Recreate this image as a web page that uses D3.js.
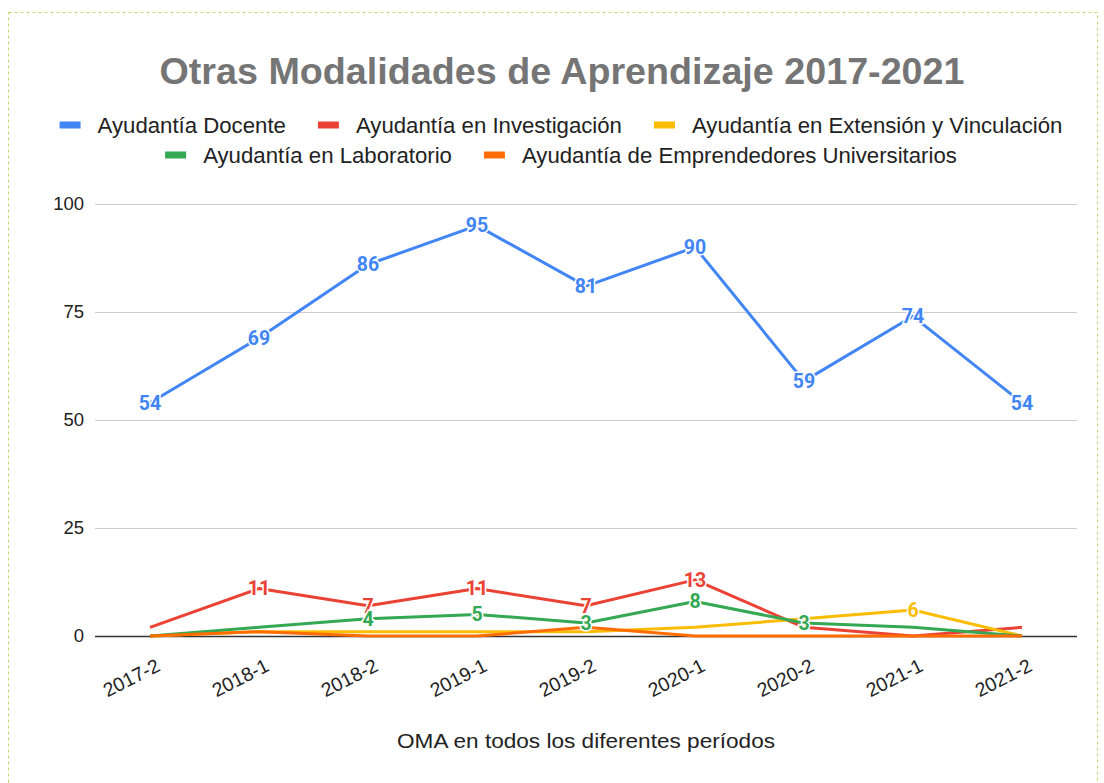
<!DOCTYPE html>
<html><head><meta charset="utf-8">
<script src="https://cdn.jsdelivr.net/npm/d3@7"></script>
<style>body{margin:0;background:#fff}svg{display:block}</style>
</head><body>
<svg id="c" width="1104" height="783"></svg>
<script>
const categories = ["2017-2","2018-1","2018-2","2019-1","2019-2","2020-1","2020-2","2021-1","2021-2"];
const seriesNames = ["Ayudantía Docente","Ayudantía en Investigación","Ayudantía en Extensión y Vinculación","Ayudantía en Laboratorio","Ayudantía de Emprendedores Universitarios"];
const docente = [54,69,86,95,81,90,59,74,54];
const investigacion = [2,11,7,11,7,13,2,0,2];
const extension = [0,1,1,1,1,2,4,6,0];
const laboratorio = [0,2,4,5,3,8,3,2,0];
const emprendedores = [0,1,0,0,2,0,0,0,0];
// which points carry a data label (indices)
const labelIdx = [
  [0,1,2,3,4,5,6,7,8],
  [1,2,3,4,5],
  [7],
  [2,3,4,5,6],
  []
];
const yTicks = [0,25,50,75,100];
const colors = ["#4285F4","#EA4335","#FBBC04","#34A853","#FF6D01"];
const title = "Otras Modalidades de Aprendizaje 2017-2021";
const xTitle = "OMA en todos los diferentes períodos";

const allSeries = [docente, investigacion, extension, laboratorio, emprendedores];
const svg = d3.select("#c");
const font = "Arial, 'Liberation Sans', sans-serif";

// border
svg.append("rect").attr("x",8.5).attr("y",12.5).attr("width",1089).attr("height",775)
  .attr("fill","none").attr("stroke","#c3d66b").attr("stroke-width",1).attr("stroke-dasharray","3,3");

svg.append("text").attr("x",562).attr("y",84).attr("text-anchor","middle")
  .attr("font-family",font).attr("font-weight","bold").attr("font-size",37.5).attr("fill","#757575")
  .attr("textLength",805).attr("lengthAdjust","spacingAndGlyphs").text(title);

const x = d3.scalePoint().domain(categories).range([150,1022]);
const y = d3.scaleLinear().domain([0,100]).range([636,204]);

// grid
const yAxis = d3.axisLeft(y).tickValues(yTicks).tickSize(-(1077-95)).tickPadding(11);
const gy = svg.append("g").attr("transform","translate(95,0)").call(yAxis);
gy.select(".domain").remove();
gy.selectAll(".tick line").attr("stroke","#cccccc");
gy.selectAll(".tick text").attr("font-family",font).attr("font-size",18.5).attr("fill","#222").attr("x",-11);
gy.selectAll(".tick").filter(d=>d===0).select("line").attr("stroke","#333").attr("stroke-width",1.5);

// x axis labels
const xAxis = d3.axisBottom(x).tickSize(0).tickPadding(0);
const gx = svg.append("g").attr("transform","translate(0,636)").call(xAxis);
gx.select(".domain").remove();
gx.selectAll(".tick text").attr("font-family",font).attr("font-size",19.5).attr("fill","#222")
  .attr("text-anchor","end").attr("dy",0).attr("y",0)
  .attr("transform","translate(11,34) rotate(-27)");

svg.append("text").attr("x",586).attr("y",748).attr("text-anchor","middle")
  .attr("font-family",font).attr("font-size",20.5).attr("fill","#222")
  .attr("textLength",378).attr("lengthAdjust","spacingAndGlyphs").text(xTitle);

// lines
const line = d3.line().x((d,i)=>x(categories[i])).y(d=>y(d));
allSeries.forEach((s,k)=>{
  svg.append("path").datum(s).attr("d",line).attr("fill","none")
    .attr("stroke",colors[k]).attr("stroke-width",3).attr("stroke-linejoin","round");
});

// labels
allSeries.forEach((s,k)=>{
  labelIdx[k].forEach(i=>{
    svg.append("text").attr("x",x(categories[i])).attr("y",y(s[i])).attr("dy","0.35em")
      .attr("text-anchor","middle").attr("font-family","Roboto, Arial, sans-serif")
      .attr("font-weight","bold").attr("font-size",19.5).attr("fill",colors[k])
      .attr("stroke","#fff").attr("stroke-width",3).attr("paint-order","stroke").text(s[i]);
  });
});

// legend
const legendRows = [[0,1,2],[3,4]];
const legendY = [125,155];
legendRows.forEach((row,r)=>{
  const g = svg.append("g");
  let cx = 0;
  row.forEach(k=>{
    const it = g.append("g").attr("transform",`translate(${cx},0)`);
    it.append("rect").attr("x",0).attr("y",-3.5).attr("width",21).attr("height",7).attr("fill",colors[k]);
    const t = it.append("text").attr("x",38).attr("y",0).attr("dy","0.36em")
      .attr("font-family",font).attr("font-size",22.2).attr("fill","#222").text(seriesNames[k]);
    const w = t.node().getComputedTextLength();
    cx += 38 + w + 32;
  });
  const total = cx - 32;
  g.attr("transform",`translate(${561 - total/2},${legendY[r]})`);
});
</script>
</body></html>
